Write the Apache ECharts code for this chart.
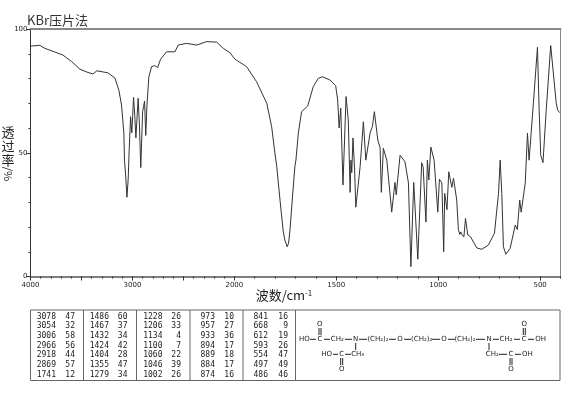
<!DOCTYPE html>
<html>
<head>
<meta charset="utf-8">
<title>KBr</title>
<script src="https://cdn.jsdelivr.net/npm/echarts@6/dist/echarts.min.js"></script>
<style>
html, body { margin: 0; padding: 0; background: #fff; }
#chart { width: 570px; height: 394px; }
</style>
</head>
<body>
<div id="chart"></div>
<script>
// 波数 and 透过率
var waveNumbers = [3997,3909,3860,3761,3683,3595,3516,3447,3388,3349,3241,3172,3133,3107,3084,3078,3065,3054,3042,3032,3018,3006,2998,2989,2977,2966,2944,2932,2918,2900,2891,2881,2869,2858,2839,2812,2780,2753,2724,2665,2583,2551,2468,2370,2272,2174,2109,2043,
    1997,1940,1891,1841,1817,1804,1792,1776,1760,1752,1741,1734,1727,1716,1703,1698,1686,1670,1640,1613,1588,1568,1531,1503,1493,1486,1478,1467,1452,1441,1432,1428,1424,1418,1410,1404,1383,1367,1355,1334,1323,1313,1296,1285,1279,1269,1252,1228,1212,1206,1187,1163,1146,1134,1120,1100,1081,1074,1060,1053,1046,1036,1020,1002,994,982,973,968,957,948,933,925,909,901,894,889,884,874,866,855,848,841,810,786,754,724,704,696,688,680,668,647,622,612,600,593,573,562,554,533,513,505,497,486,470,448,421,414,404];
var transmittance = [93.1,93.4,92.2,90.7,89.5,86.8,83.8,82.6,81.8,83.1,82.3,80.2,75.3,69.3,58,47,40,32,39,51,64.6,58,64.6,72.4,65,56,72,62,44,66.6,68.6,70.9,57,68.6,80.7,84.8,85.2,84.4,87.8,90.8,90.8,93.5,94.2,93.5,94.9,94.7,92.2,90.4,
    87.8,84.8,78.7,70,60.5,51.8,44.4,30.9,18.1,14.7,12,13.5,18.8,30.9,44.4,47,58,66.6,68.9,76.7,80.1,80.7,79.4,77.1,71.3,60,68,37,72.7,63.2,34,47,42,56,43,28,44.4,62.5,47,58,60.5,66.6,55,52,34,51.8,47,26,38,33,49,46.4,37.8,4,38,7,46,44.4,22,47,39,52.3,47,26,39.3,37.8,10,33.6,27,42.3,36,39.7,30.9,19,17,18,17,16,23.5,16.8,17.2,16,11.5,11,12.7,17.5,33.6,47,33.6,12,9,11.4,20.8,19,30.9,26,37.7,57.9,47,70,92.6,68,49,46,67.3,93.3,70,67.3,66.2];

// 峰位表
var peakWave = [
    [3078,3054,3006,2966,2918,2869,1741],
    [1486,1467,1432,1424,1404,1355,1279],
    [1228,1206,1134,1100,1060,1046,1002],
    [973,957,933,894,889,884,874],
    [841,668,612,593,554,497,486]
];
var peakTrans = [
    [47,32,58,56,44,57,12],
    [60,37,34,42,28,47,34],
    [26,33,4,7,22,39,26],
    [10,27,36,17,18,17,16],
    [16,9,19,26,47,49,46]
];

var xLabelValues = [4000,3000,2000,1500,1000,500];
var xMajorTicks = [4000,3500,3000,2500,2000,1500,1000,500];
var yLabelValues = [0,50,100];
var yMinorTicks = [10,20,30,40,60,70,80,90];

var fontName = '"Noto Sans CJK SC"';
var smallFont = '"DejaVu Sans"';
var monoFont = '"DejaVu Sans Mono"';

// x轴在2000处换比例，低波数一段放大两倍
function toAxis(w) {
    return w >= 2000 ? w : 2 * w - 2000;
}
function fromAxis(u) {
    return u >= 2000 ? u : (u + 2000) / 2;
}

var xMinorTicks = [];
for (var w = 4000; w >= 400; w -= 100) {
    xMinorTicks.push(toAxis(w));
}

var lineData = [];
for (var i = 0; i < waveNumbers.length; ++i) {
    lineData.push([toAxis(waveNumbers[i]), transmittance[i]]);
}

var gfx = [];
function addText(text, x, y, size, font, align, color) {
    gfx.push({
        type: 'text',
        x: x, y: y,
        silent: true,
        style: {
            text: text, fill: color || '#222', font: size + 'px ' + font,
            align: align || 'center', verticalAlign: 'middle'
        }
    });
}
function addLine(x1, y1, x2, y2, color, width) {
    gfx.push({
        type: 'line',
        silent: true,
        shape: { x1: x1, y1: y1, x2: x2, y2: y2 },
        style: { stroke: color || '#333', lineWidth: width || 1 }
    });
}

addText('KBr压片法', 27, 20, 13, fontName, 'left', '#333');
addText('透', 8, 132, 13, fontName);
addText('过', 8, 146, 13, fontName);
addText('率', 8, 160, 13, fontName);
gfx.push({
    type: 'text', x: 8, y: 174, rotation: -Math.PI / 2, silent: true,
    style: { text: '/%', fill: '#222', font: '11px ' + fontName, align: 'center', verticalAlign: 'middle' }
});
gfx.push({
    type: 'text', x: 284, y: 295, silent: true,
    style: {
        rich: {
            a: { font: '13px ' + fontName, fill: '#222' },
            b: { font: '8px ' + fontName, fill: '#222', verticalAlign: 'top' }
        },
        text: '{a|波数/cm}{b|-1}', align: 'center', verticalAlign: 'middle'
    }
});

// 下方表格
var boxColor = '#666';
addLine(30.5, 310, 560, 310, boxColor, 1);
addLine(30.5, 380.5, 560, 380.5, boxColor, 1);
addLine(30.5, 310, 30.5, 380.5, boxColor, 1);
addLine(560, 310, 560, 380.5, boxColor, 1);
var tableLines = [83.5, 136.5, 190, 243, 295.5];
for (var i = 0; i < tableLines.length; ++i) {
    addLine(tableLines[i], 310, tableLines[i], 380.5, boxColor, 1);
}
var waveRight = [56, 109, 162.5, 215, 268];
var transRight = [75, 127.5, 181, 234, 288];
var rowY = [316.7, 326, 336, 345.7, 355, 364.7, 374.7];
for (var c = 0; c < peakWave.length; ++c) {
    for (var r = 0; r < rowY.length; ++r) {
        addText(String(peakWave[c][r]), waveRight[c], rowY[r], 8, monoFont, 'right');
        addText(String(peakTrans[c][r]), transRight[c], rowY[r], 8, monoFont, 'right');
    }
}

// 结构式
var mainY = 339.3, lowY = 354.3, topO = 324.3, lowO = 369;
var bonds = [
    [310, mainY, 316, mainY], [324, mainY, 330, mainY], [345, mainY, 352, mainY], [359, mainY, 367, mainY],
    [389, mainY, 396, mainY], [404, mainY, 411, mainY], [432, mainY, 440, mainY], [448, mainY, 455, mainY],
    [476, mainY, 485, mainY], [493, mainY, 499, mainY], [514, mainY, 520, mainY], [528, mainY, 534, mainY],
    [355.7, 343, 355.7, 350], [489, 343, 489, 350],
    [333, lowY, 338, lowY], [345, lowY, 351, lowY], [499, lowY, 507, lowY], [515, lowY, 521, lowY],
    [319, 328, 319, 335], [321, 328, 321, 335], [523.3, 328, 523.3, 335], [525.3, 328, 525.3, 335],
    [340.7, 358, 340.7, 365], [342.7, 358, 342.7, 365], [510, 358, 510, 365], [512, 358, 512, 365]
];
for (var i = 0; i < bonds.length; ++i) {
    addLine(bonds[i][0], bonds[i][1], bonds[i][2], bonds[i][3], '#222', 1);
}
var atomText = [
    ['HO', 304.3, mainY], ['C', 320, mainY], ['CH₂', 337.3, mainY], ['N', 355.7, mainY],
    ['(CH₂)₂', 378, mainY], ['O', 400, mainY], ['(CH₂)₂', 421.7, mainY], ['O', 444, mainY],
    ['(CH₂)₂', 465, mainY], ['N', 489, mainY], ['CH₂', 506, mainY], ['C', 524.3, mainY], ['OH', 540.7, mainY],
    ['O', 319.7, topO], ['O', 524.3, topO],
    ['HO', 326.7, lowY], ['C', 341.7, lowY], ['CH₃', 357.7, lowY], ['O', 341.7, lowO],
    ['CH₂', 492.3, lowY], ['C', 511, lowY], ['OH', 527.3, lowY], ['O', 511, lowO]
];
for (var i = 0; i < atomText.length; ++i) {
    addText(atomText[i][0], atomText[i][1], atomText[i][2], 7, smallFont);
}

var xMin = toAxis(400);
var xMax = toAxis(4000);
var frameColor = '#888';

var myChart = echarts.init(document.getElementById('chart'));
myChart.setOption({
    animation: false,
    backgroundColor: '#fff',
    grid: { left: 30.5, right: 9.5, top: 29, bottom: 117.5 },
    xAxis: [
        {
            type: 'value', min: xMin, max: xMax, inverse: true, position: 'bottom',
            splitLine: { show: false },
            axisLine: { onZero: false, lineStyle: { color: '#555', width: 1.5 } },
            axisTick: {
                length: 4, lineStyle: { color: '#333' },
                customValues: xMajorTicks.map(toAxis)
            },
            axisLabel: {
                fontSize: 7, fontFamily: smallFont, color: '#222', margin: 5,
                customValues: xLabelValues.map(toAxis),
                formatter: function (u) { return String(Math.round(fromAxis(u))); }
            }
        },
        {
            type: 'value', min: xMin, max: xMax, inverse: true, position: 'bottom',
            splitLine: { show: false },
            axisLine: { show: false, onZero: false },
            axisLabel: { show: false },
            axisTick: { length: 2, lineStyle: { color: '#333' }, customValues: xMinorTicks }
        },
        {
            type: 'value', min: xMin, max: xMax, inverse: true, position: 'top',
            splitLine: { show: false },
            axisLine: { onZero: false, lineStyle: { color: frameColor, width: 2 } },
            axisLabel: { show: false },
            axisTick: { show: false }
        }
    ],
    yAxis: [
        {
            type: 'value', min: 0, max: 100, position: 'left',
            splitLine: { show: false },
            axisLine: { onZero: false, lineStyle: { color: '#333', width: 1 } },
            axisTick: { length: 4, lineStyle: { color: '#333' }, customValues: yLabelValues },
            axisLabel: {
                fontSize: 7, fontFamily: smallFont, color: '#222', margin: 3,
                customValues: yLabelValues
            }
        },
        {
            type: 'value', min: 0, max: 100, position: 'left',
            splitLine: { show: false },
            axisLine: { show: false, onZero: false },
            axisLabel: { show: false },
            axisTick: { length: 2, lineStyle: { color: '#333' }, customValues: yMinorTicks }
        },
        {
            type: 'value', min: 0, max: 100, position: 'right',
            splitLine: { show: false },
            axisLine: { onZero: false, lineStyle: { color: frameColor, width: 1 } },
            axisLabel: { show: false },
            axisTick: { show: false }
        }
    ],
    series: [{
        type: 'line',
        xAxisIndex: 0,
        yAxisIndex: 0,
        showSymbol: false,
        smooth: false,
        lineStyle: { color: '#333', width: 1 },
        data: lineData
    }],
    graphic: gfx
});
</script>
</body>
</html>
